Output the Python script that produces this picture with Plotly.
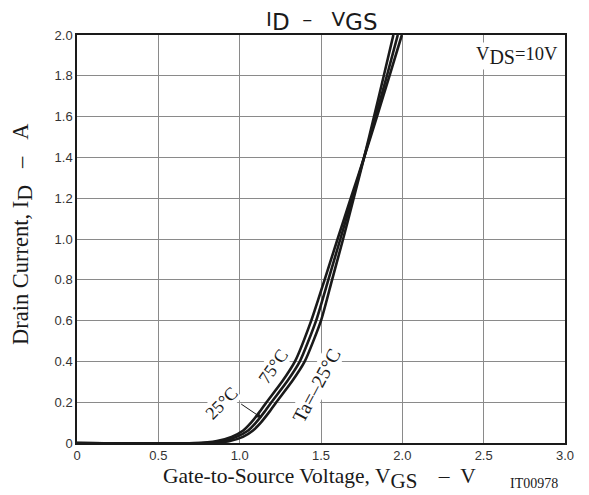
import plotly.graph_objects as go

# Drain current levels (A) and the gate voltage (V) at which each curve reaches them
current_levels = [0, 0, 0.01, 0.03, 0.06, 0.1, 0.15, 0.2, 0.3, 0.4, 0.6, 0.8, 1.0, 1.2, 1.4, 1.6, 1.8, 2.0]
vgs_75C = [0, 0.72, 0.86, 0.95, 1.02, 1.07, 1.12, 1.165, 1.26, 1.34, 1.44, 1.522, 1.602, 1.683, 1.765, 1.844, 1.921, 1.997]
vgs_25C = [0, 0.78, 0.90, 0.98, 1.05, 1.10, 1.15, 1.195, 1.29, 1.37, 1.47, 1.545, 1.619, 1.692, 1.765, 1.836, 1.905, 1.972]
vgs_m25C = [0, 0.84, 0.94, 1.02, 1.08, 1.13, 1.18, 1.225, 1.32, 1.40, 1.50, 1.568, 1.636, 1.701, 1.765, 1.826, 1.886, 1.945]

x_ticks = [0, 0.5, 1.0, 1.5, 2.0, 2.5, 3.0]
x_tick_labels = ["0", "0.5", "1.0", "1.5", "2.0", "2.5", "3.0"]
y_ticks = [0, 0.2, 0.4, 0.6, 0.8, 1.0, 1.2, 1.4, 1.6, 1.8, 2.0]
y_tick_labels = ["0", "0.2", "0.4", "0.6", "0.8", "1.0", "1.2", "1.4", "1.6", "1.8", "2.0"]

serif = "Liberation Serif, Times New Roman, serif"
sans = "Liberation Sans, Arial, sans-serif"
wide_sans = "DejaVu Sans, Liberation Sans, sans-serif"
ink = "#1a1a1a"
NB = "\u00a0"


def sub(t, size):
    return f"<sub><span style='font-size:{size}px'>{t}</span></sub>"


fig = go.Figure()
for v in (vgs_75C, vgs_25C, vgs_m25C):
    fig.add_trace(go.Scatter(x=v, y=current_levels, mode="lines",
                             line=dict(color=ink, width=2.6, shape="spline", smoothing=0.6),
                             showlegend=False, hoverinfo="skip"))

# page has an 8px body margin, so the figure is sized to fit the 589x495 window
fig.update_layout(
    width=581, height=487,
    margin=dict(l=69, r=24, t=27, b=52),
    paper_bgcolor="white", plot_bgcolor="white",
)
fig.update_xaxes(range=[0, 3.0], tickvals=x_ticks, ticktext=x_tick_labels,
                 showgrid=True, gridcolor="#8a8a8a", gridwidth=1,
                 showline=True, linecolor=ink, linewidth=1.5, mirror=True,
                 zeroline=False, ticks="", tickfont=dict(family=sans, size=13, color="#333"))
fig.update_yaxes(range=[0, 2.0], tickvals=y_ticks, ticktext=y_tick_labels,
                 showgrid=True, gridcolor="#8a8a8a", gridwidth=1,
                 showline=True, linecolor=ink, linewidth=1.5, mirror=True,
                 zeroline=False, ticks="", tickfont=dict(family=sans, size=13, color="#333"))

# chart title
fig.add_annotation(x=0.502, y=1.034, xref="paper", yref="paper", xanchor="center", yanchor="middle",
                   text="I" + sub("D", 23) + NB * 2 + "–" + NB * 3 + "V" + sub("GS", 23), showarrow=False,
                   font=dict(family=wide_sans, size=20, color=ink))
# axis titles
fig.add_annotation(x=0.496, y=-0.086, xref="paper", yref="paper", xanchor="center", yanchor="middle",
                   text="Gate-to-Source Voltage, V" + sub("GS", 21) + NB * 4 + "–" + NB * 2 + "V",
                   showarrow=False, font=dict(family=serif, size=21.5, color=ink))
fig.add_annotation(x=-0.112, y=0.513, xref="paper", yref="paper", xanchor="center", yanchor="middle",
                   text="Drain Current, I" + sub("D", 22) + NB * 3 + "–" + NB * 3 + "A",
                   showarrow=False, textangle=-90, font=dict(family=serif, size=22.5, color=ink))

fig.add_annotation(x=0.99, y=0.949, xref="paper", yref="paper", xanchor="right", yanchor="middle",
                   text="V" + sub("DS", 20) + "=10V", showarrow=False,
                   font=dict(family=serif, size=18.5, color=ink), bgcolor="white")
fig.add_annotation(x=0.89, y=0.196, text="25°C", showarrow=False, textangle=-45,
                   font=dict(family=serif, size=18, color=ink), bgcolor="white", borderpad=0)
fig.add_annotation(x=1.205, y=0.372, text="75°C", showarrow=False, textangle=-55,
                   font=dict(family=serif, size=18, color=ink), bgcolor="white", borderpad=0)
fig.add_annotation(x=1.475, y=0.28, text="Ta=–25°C", showarrow=False, textangle=-62,
                   font=dict(family=serif, size=19.5, color=ink), bgcolor="white", borderpad=0)
fig.add_annotation(x=1.135, y=0.123, ax=1.0, ay=0.196, axref="x", ayref="y",
                   text="", showarrow=True, arrowhead=2, arrowsize=1, arrowwidth=1,
                   arrowcolor=ink)
fig.add_annotation(x=0.99, y=-0.1, xref="paper", yref="paper", xanchor="right", yanchor="middle",
                   text="IT00978", showarrow=False,
                   font=dict(family=serif, size=14, color=ink))

fig.write_html("out.html")
